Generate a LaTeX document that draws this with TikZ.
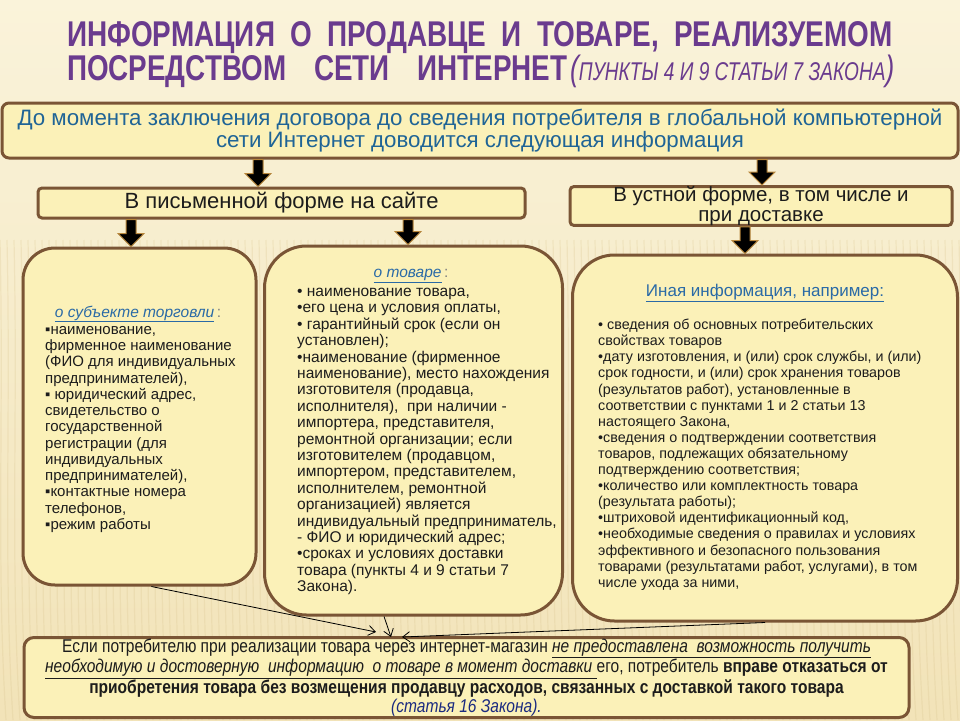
\documentclass[tikz,border=0pt]{standalone}
\usepackage{fontspec}
\setmainfont{Liberation Sans}
\newfontfamily\narrowfont[FakeStretch=0.84]{Liberation Sans}
\usepackage{graphicx}
\usetikzlibrary{calc,arrows.meta}
\newcommand\myul[1]{\underline{#1}}
\newcommand\tsp{\hspace{0.55em}}
\definecolor{bgtop}{HTML}{FAF3DA}
\definecolor{bgbot}{HTML}{F2E3B8}
\definecolor{stripe}{HTML}{D9C48E}
\definecolor{boxfill}{HTML}{FBF1B8}
\definecolor{boxedge}{HTML}{7A5535}
\definecolor{arrgold}{HTML}{B8873C}
\definecolor{titlepurple}{HTML}{6A3B8E}
\definecolor{topblue}{HTML}{1F6496}
\definecolor{linkblue}{HTML}{2A6AA6}
\definecolor{bodytext}{HTML}{1C1C1C}
\definecolor{navy}{HTML}{1A2A80}
\newcommand\mybarrow[2]{%
  \filldraw[barrow] ($(#1)+(-5,0)$) -- ($(#2)+(-5,-13)$) -- ($(#2)+(-13,-13)$) -- (#2)
    -- ($(#2)+(13,-13)$) -- ($(#2)+(5,-13)$) -- ($(#1)+(5,0)$) -- cycle;}
\begin{document}
\begin{tikzpicture}[x=1pt,y=-1pt,
  panel/.style={draw=boxedge, line width=3pt, fill=boxfill, rounded corners=#1, inner sep=0pt, text=bodytext},
  panel/.default=6pt,
  barrow/.style={fill=black, draw=arrgold, line width=1pt, line join=miter},
  conn/.style={draw=black, line width=0.8pt, -{Straight Barb[length=7pt,width=10pt]}},
  body/.style={anchor=north west, inner sep=0pt, align=left, text=bodytext},
  head/.style={inner sep=0pt, text=linkblue},
  ttl/.style={anchor=base west, inner sep=0pt, text=titlepurple}]
\useasboundingbox (0,0) rectangle (960,720);
\shade[top color=bgtop, bottom color=bgbot] (0,0) rectangle (960,720);
\foreach \i in {0,7,...,966}{\draw[stripe, opacity=0.25, line width=1.2pt] (\i,240) .. controls (\i+4,420) and (\i-4,560) .. (\i+6,720);}

% title
\node[ttl] (t1) at (67,46) {\resizebox{825pt}{25pt}{\bfseries ИНФОРМАЦИЯ\tsp О\tsp ПРОДАВЦЕ\tsp И\tsp ТОВАРЕ,\tsp РЕАЛИЗУЕМОМ}};
\node[ttl] (t2) at (67,80) {\resizebox{500pt}{25pt}{\bfseries ПОСРЕДСТВОМ\hspace{1em}СЕТИ\hspace{1em}ИНТЕРНЕТ}};
\node[ttl] (t3) at (570,80) {\resizebox{324pt}{25.5pt}{\itshape (\scalebox{0.73}{ПУНКТЫ 4 И 9 СТАТЬИ 7 ЗАКОНА})}};

% boxes
\node[panel=7pt, minimum width=956pt, minimum height=55pt, align=center, text=topblue,
      font=\fontsize{22.3}{19}\selectfont] (top) at (480,130.5)
  {До момента заключения договора до сведения потребителя в глобальной компьютерной\\сети Интернет доводится следующая информация};
\node[panel=4pt, minimum width=487pt, minimum height=30pt, font=\fontsize{22}{20}\selectfont] (write) at (281.5,203)
  {В письменной форме на сайте};
\node[panel=4pt, minimum width=382pt, minimum height=38pt, align=center, font=\fontsize{20.5}{19.5}\selectfont] (oral) at (761,206)
  {В устной форме, в том числе и\\при доставке};
\node[panel=32pt, minimum width=233pt, minimum height=337pt] (left) at (139.5,416.5) {};
\node[panel=42pt, minimum width=298pt, minimum height=369pt] (mid) at (413.5,430.5) {};
\node[panel=42pt, minimum width=385pt, minimum height=366pt] (right) at (765,438) {};
\node[panel=10pt, minimum width=885pt, minimum height=80pt, align=center,
      font=\narrowfont\fontsize{18.5}{19}\selectfont] (bottom) at (466.5,677.5)
  {Если потребителю при реализации товара через интернет-магазин \myul{\itshape не предоставлена\ \ возможность получить}\\
   \myul{\itshape необходимую и достоверную\ \ информацию\ \ о товаре в момент доставки }его, потребитель \textbf{вправе отказаться от}\\
   \textbf{приобретения товара без возмещения продавцу расходов, связанных с доставкой такого товара}\\
   \textcolor{navy}{\itshape (статья 16 Закона).}};

% block arrows
\coordinate (ax1) at (258,0);
\coordinate (ax2) at (762,0);
\coordinate (ax3) at (131,0);
\coordinate (ax4) at (408,0);
\coordinate (ax5) at (745,0);
\path (top.south -| ax1) coordinate (a1s) (write.north -| ax1) coordinate (a1e)
      (top.south -| ax2) coordinate (a2s) (oral.north -| ax2) coordinate (a2e)
      (write.south -| ax3) coordinate (a3s) (left.north -| ax3) coordinate (a3e)
      (write.south -| ax4) coordinate (a4s) (mid.north -| ax4) coordinate (a4e)
      (oral.south -| ax5) coordinate (a5s) (right.north -| ax5) coordinate (a5e);
\mybarrow{a1s}{a1e}
\mybarrow{a2s}{a2e}
\mybarrow{a3s}{a3e}
\mybarrow{a4s}{a4e}
\mybarrow{a5s}{a5e}

% headings
\node[head, font=\fontsize{15.5}{16}\selectfont] (lhead) at (138,314)
  {\myul{\itshape о субъекте торговли}\textcolor{gray}{\,:}};
\node[head, font=\fontsize{15.5}{16}\selectfont] (mhead) at (411,276)
  {\myul{\itshape о товаре}\textcolor{gray}{\,:}};
\node[head, font=\fontsize{17}{17}\selectfont] (rhead) at (765,293)
  {\myul{Иная информация, например:}};

% bodies
\node[body, font=\fontsize{15}{16.25}\selectfont] (ltext) at (45,326)
  {▪наименование,\\фирменное наименование\\(ФИО для индивидуальных\\предпринимателей),\\▪ юридический адрес,\\свидетельство о\\государственной\\регистрации (для\\индивидуальных\\предпринимателей),\\▪контактные номера\\телефонов,\\▪режим работы};
\node[body, font=\fontsize{15.5}{16.4}\selectfont] (mtext) at (297,288)
  {• наименование товара,\\•его цена и условия оплаты,\\• гарантийный срок (если он\\установлен);\\•наименование (фирменное\\наименование), место нахождения\\изготовителя (продавца,\\исполнителя),\ \ при наличии -\\импортера, представителя,\\ремонтной организации; если\\изготовителем (продавцом,\\импортером, представителем,\\исполнителем, ремонтной\\организацией) является\\индивидуальный предприниматель,\\- ФИО и юридический адрес;\\•сроках и условиях доставки\\товара (пункты 4 и 9 статьи 7\\Закона).};
\node[body, font=\fontsize{14.3}{16.1}\selectfont] (rtext) at (598,319)
  {• сведения об основных потребительских\\свойствах товаров\\•дату изготовления, и (или) срок службы, и (или)\\срок годности, и (или) срок хранения товаров\\(результатов работ), установленные в\\соответствии с пунктами 1 и 2 статьи 13\\настоящего Закона,\\•сведения о подтверждении соответствия\\товаров, подлежащих обязательному\\подтверждению соответствия;\\•количество или комплектность товара\\(результата работы);\\•штриховой идентификационный код,\\•необходимые сведения о правилах и условиях\\эффективного и безопасного пользования\\товарами (результатами работ, услугами), в том\\числе ухода за ними,};

% converging connectors
\coordinate (m1) at (376,632);
\coordinate (m2) at (391,637);
\coordinate (m3) at (402,637);
\draw[conn] (left.-86) -- (m1);
\draw[conn] (mid.-99) -- (m2);
\draw[conn] (right.south) -- (m3);
\end{tikzpicture}
\end{document}
